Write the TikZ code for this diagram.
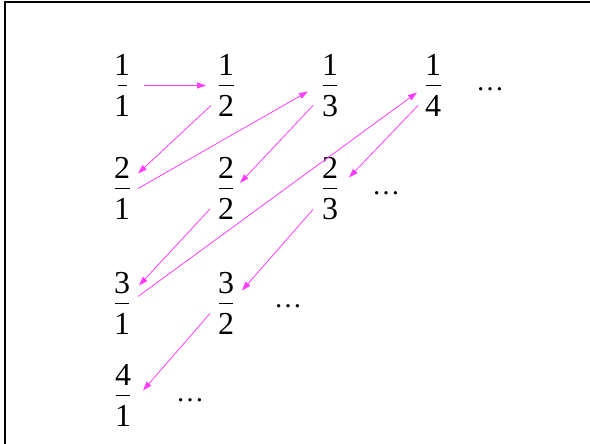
\documentclass[tikz,border=0pt]{standalone}
\usepackage{fontspec}
\setmainfont{Liberation Serif}
\newfontfamily\slidefont{Liberation Serif}
\usetikzlibrary{arrows.meta}

\definecolor{arrowpink}{RGB}{255,60,255}
% stacked fraction: numerator, bar, denominator
\newcommand{\stackfr}[3][14pt]{%
	\makebox[#1]{%
		\makebox[0pt]{\raisebox{10.5pt}{#2}}%
		\makebox[0pt]{\rule{#1}{1pt}}%
		\makebox[0pt]{\raisebox{-30.5pt}{#3}}}}

\tikzset{
	fr/.style={anchor=base, inner sep=0pt, font=\slidefont\fontsize{32}{34}\selectfont},
	more/.style={anchor=base, inner sep=0pt, font=\slidefont\fontsize{28}{30}\selectfont},
	diag/.style={arrowpink, line width=0.8pt, -{Triangle[length=9pt,width=6pt]}}
}

\begin{document}
\begin{tikzpicture}[x=1pt, y=-1pt]
	\useasboundingbox (0,0) rectangle (590,444);
	% frame
	\draw [line width=2pt] (5,444) -- (5,2) -- (590,2);
	% first row
	\node [fr] (f11) at (122,86.5) {\stackfr[9pt]{1}{1}};
	\node [fr] (f12) at (226,86.5) {\stackfr[15pt]{1}{2}};
	\node [fr] (f13) at (330,86.5) {\stackfr{1}{3}};
	\node [fr] (f14) at (433,86.5) {\stackfr[15pt]{1}{4}};
	\node [more] (d1) at (490,91) {…};
	% second row
	\node [fr] (f21) at (122,189.5) {\stackfr[15pt]{2}{1}};
	\node [fr] (f22) at (226,189) {\stackfr{2}{2}};
	\node [fr] (f23) at (330,189.5) {\stackfr{2}{3}};
	\node [more] (d2) at (386,194) {…};
	% third row
	\node [fr] (f31) at (122,303.5) {\stackfr{3}{1}};
	\node [fr] (f32) at (226,303.5) {\stackfr{3}{2}};
	\node [more] (d3) at (288,307) {…};
	% fourth row
	\node [fr] (f41) at (123,395.5) {\stackfr{4}{1}};
	\node [more] (d4) at (190,401) {…};
	% zig-zag arrows
	\draw [diag] ([shift={(22,-1)}]f11.base) -- ([shift={(-20,-1)}]f12.base);
	\draw [diag] ([shift={(-15,19)}]f12.base) -- ([shift={(16,-16)}]f21.base);
	\draw [diag] ([shift={(16,-1)}]f21.base) -- ([shift={(-22,5)}]f13.base);
	\draw [diag] ([shift={(-17,19)}]f13.base) -- ([shift={(14,-6)}]f22.base);
	\draw [diag] ([shift={(-16,20)}]f22.base) -- ([shift={(17,-18)}]f31.base);
	\draw [diag] ([shift={(16,-7)}]f31.base) -- ([shift={(-16,6)}]f14.base);
	\draw [diag] ([shift={(-15,19)}]f14.base) -- ([shift={(19,-12)}]f23.base);
	\draw [diag] ([shift={(-17,20)}]f23.base) -- ([shift={(16,-13)}]f32.base);
	\draw [diag] ([shift={(-16,10)}]f32.base) -- ([shift={(20,-5)}]f41.base);
\end{tikzpicture}
\end{document}
